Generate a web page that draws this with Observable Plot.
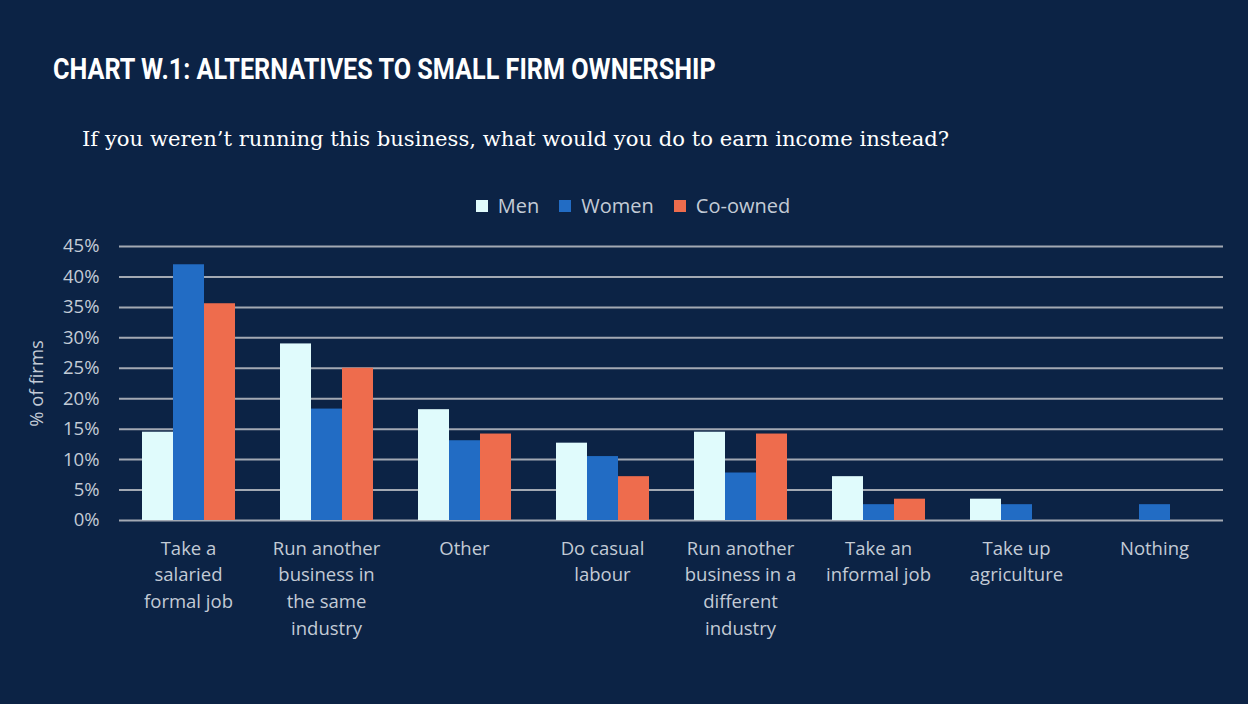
<!DOCTYPE html>
<html>
<head>
<meta charset="utf-8">
<script src="https://cdn.jsdelivr.net/npm/d3@7"></script>
<script src="https://cdn.jsdelivr.net/npm/@observablehq/plot@0.6"></script>
<style>
  html, body { margin: 0; padding: 0; background: #0c2345; }
  #page { position: relative; width: 1248px; height: 704px; background: #0c2345; overflow: hidden; }
  #title {
    position: absolute; left: 53px; top: 55px;
    font-family: Roboto, sans-serif; font-weight: bold; font-size: 29px; line-height: 1;
    color: #ffffff; white-space: nowrap; transform-origin: 0 0;
  }
  #subtitle {
    position: absolute; left: 82px; top: 129px;
    font-family: "DejaVu Serif", serif; font-size: 19.5px; line-height: 1;
    color: #ffffff; white-space: nowrap;
  }
  #legend { position: absolute; left: 0; top: 189px; width: 1248px; display: flex; justify-content: center; padding-left: 38px; box-sizing: border-box; }
  #chart { position: absolute; left: 0; top: 230px; }
</style>
</head>
<body>
<div id="page">
  <div id="title">CHART W.1: ALTERNATIVES TO SMALL FIRM OWNERSHIP</div>
  <div id="subtitle">If you weren’t running this business, what would you do to earn income instead?</div>
  <div id="legend"></div>
  <div id="chart"></div>
</div>
<script>
// Answer categories, in display order, and their wrapped tick labels
const categories = [
  "Take a salaried formal job",
  "Run another business in the same industry",
  "Other",
  "Do casual labour",
  "Run another business in a different industry",
  "Take an informal job",
  "Take up agriculture",
  "Nothing"
];
const categoryLabels = [
  "Take a\nsalaried\nformal job",
  "Run another\nbusiness in\nthe same\nindustry",
  "Other",
  "Do casual\nlabour",
  "Run another\nbusiness in a\ndifferent\nindustry",
  "Take an\ninformal job",
  "Take up\nagriculture",
  "Nothing"
];

// Owner groups and their colours
const series = ["Men", "Women", "Co-owned"];
const seriesColors = ["#e0fbfc", "#226cc4", "#ee6c4d"];

// Share of firms (%) for each category, per owner group (null = no bar)
const men     = [14.5, 29.0, 18.2, 12.7, 14.5, 7.2, 3.5, null];
const women   = [42.0, 18.3, 13.1, 10.5,  7.8, 2.6, 2.6, 2.6];
const coOwned = [35.6, 25.0, 14.2,  7.2, 14.2, 3.5, null, null];

// y-axis ticks (%)
const yTicks = [0, 5, 10, 15, 20, 25, 30, 35, 40, 45];

const valuesBySeries = {"Men": men, "Women": women, "Co-owned": coOwned};
const rows = [];
for (const s of series) {
  categories.forEach((c, i) => {
    const v = valuesBySeries[s][i];
    if (v != null) rows.push({category: c, series: s, value: v / 100});
  });
}
const labelOf = new Map(categories.map((c, i) => [c, categoryLabels[i]]));

const textColor = "#c3cbd6";
const font = "'Open Sans', Lato, sans-serif";

const chart = Plot.plot({
  width: 1248,
  height: 420,
  marginLeft: 116,
  marginRight: 23,
  marginTop: 16,
  marginBottom: 130,
  style: {background: "transparent", color: textColor, fontFamily: font, fontSize: "18.5px"},
  fx: {domain: categories, padding: 0, label: null},
  x: {domain: series, axis: null, paddingInner: 0, paddingOuter: 0.7},
  y: {
    domain: [0, 0.45],
    ticks: yTicks.map((t) => t / 100),
    tickFormat: d3.format(".0%"),
    tickSize: 0,
    tickPadding: 20,
    label: "% of firms",
    labelAnchor: "center",
    labelOffset: 90,
    labelArrow: "none"
  },
  color: {domain: series, range: seriesColors},
  marks: [
    Plot.gridY(yTicks.map((t) => t / 100), {stroke: "#a3a9b3", strokeOpacity: 1, strokeWidth: 2}),
    Plot.barY(rows, {fx: "category", x: "series", y: "value", fill: "series"}),
    Plot.axisFx({
      anchor: "bottom",
      tickSize: 0,
      tickPadding: 15,
      lineHeight: 1.45,
      label: null,
      tickFormat: (d) => labelOf.get(d)
    })
  ]
});
document.getElementById("chart").appendChild(chart);

const legend = Plot.legend({
  color: {domain: series, range: seriesColors},
  swatchSize: 12,
  style: {background: "transparent", color: textColor, fontFamily: font, fontSize: "20px"}
});
document.getElementById("legend").appendChild(legend);

// Fit the condensed title and the subtitle to their line lengths
const title = document.getElementById("title");
title.style.transform = `scaleX(${663 / title.scrollWidth})`;
const sub = document.getElementById("subtitle");
const fs = 19.5 * 868 / sub.scrollWidth;
sub.style.fontSize = fs + "px";
sub.style.top = (146 - 0.85 * fs) + "px";
</script>
</body>
</html>
